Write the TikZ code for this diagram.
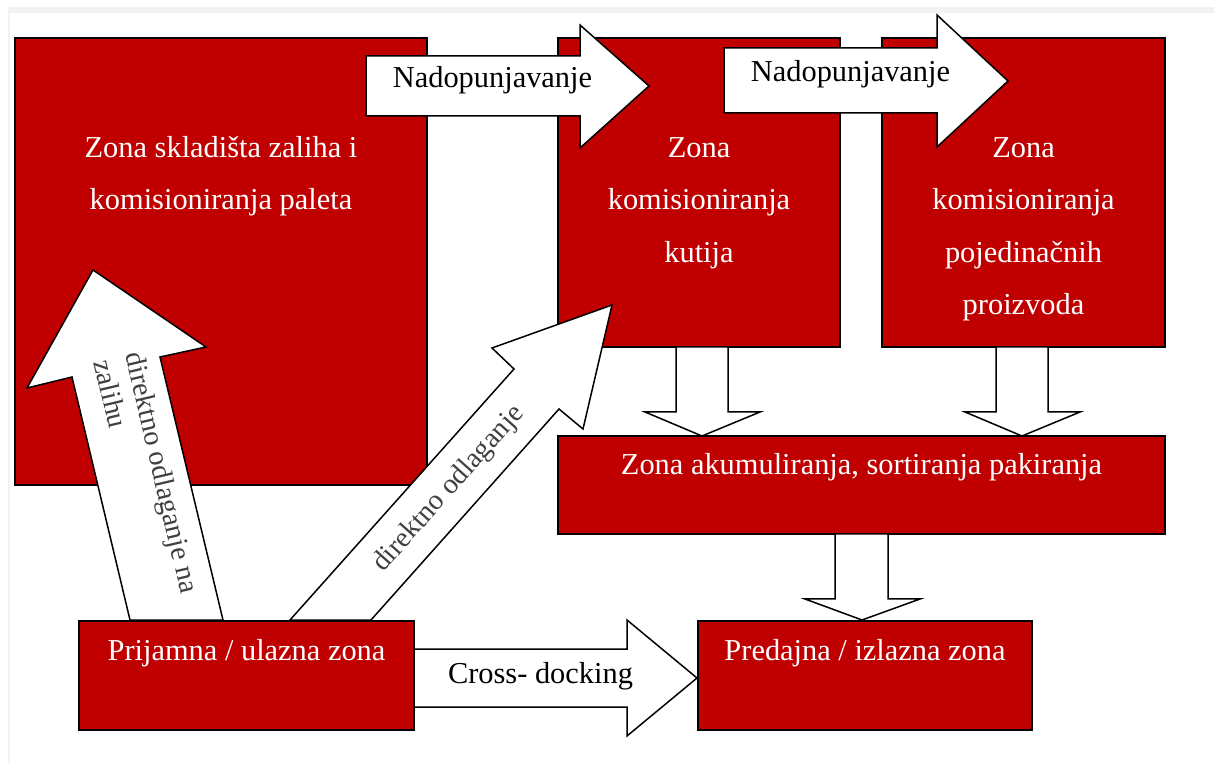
\documentclass[tikz,border=0pt]{standalone}
\usepackage{fontspec}
\setmainfont{Liberation Serif}
\definecolor{zonered}{HTML}{C00000}
\definecolor{labelgray}{HTML}{404040}
\definecolor{bandgray}{HTML}{F2F2F4}
\begin{document}
\begin{tikzpicture}[x=0.5pt,y=-0.5pt,
  zone/.style={draw=black, line width=1pt, fill=zonered, inner sep=0pt},
  ztext/.style={text=white, font=\fontsize{15.2}{18}\selectfont, anchor=base, inner sep=0pt},
  blockarrow/.style={draw=black, line width=0.75pt, fill=white, line join=miter},
  atext/.style={text=black, font=\fontsize{15.2}{18}\selectfont, anchor=base, inner sep=0pt},
  gtext/.style={text=labelgray, font=\fontsize{14.2}{16}\selectfont, inner sep=0pt}]
\useasboundingbox (0,0) rectangle (1214,763);
\fill[white] (0,0) rectangle (1214,763);
\fill[bandgray] (8,7) rectangle (1214,13);
\fill[bandgray] (8,7) rectangle (10,763);

% zones
\node[zone, minimum width=206pt, minimum height=223.5pt] (A) at (221,261.5) {};
\node[zone, minimum width=141pt, minimum height=154.5pt] (B) at (699,192.5) {};
\node[zone, minimum width=141.5pt, minimum height=154.5pt] (C) at (1023.5,192.5) {};
\node[zone, minimum width=303.5pt, minimum height=49pt] (D) at (861.5,485) {};
\node[zone, minimum width=167.5pt, minimum height=54.5pt] (E) at (246.5,675.5) {};
\node[zone, minimum width=167pt, minimum height=54.5pt] (F) at (865,675.5) {};

% zone texts
\node[ztext] (tA1) at (221,158) {Zona skladišta zaliha i};
\node[ztext] (tA2) at (221,210) {komisioniranja paleta};
\node[ztext] (tB1) at (699,158) {Zona};
\node[ztext] (tB2) at (699,210) {komisioniranja};
\node[ztext] (tB3) at (699,263) {kutija};
\node[ztext] (tC1) at (1023.5,158) {Zona};
\node[ztext] (tC2) at (1023.5,210) {komisioniranja};
\node[ztext] (tC3) at (1023.5,263) {pojedinačnih};
\node[ztext] (tC4) at (1023.5,315) {proizvoda};
\node[ztext] (tD) at (861.5,475) {Zona akumuliranja, sortiranja pakiranja};
\node[ztext] (tE) at (246.5,660) {Prijamna / ulazna zona};
\node[ztext] (tF) at (865,660) {Predajna / izlazna zona};

% block arrows
\draw[blockarrow] (366,56) -- (580,56) -- (580,25) -- (649,86) -- (580,148) -- (580,116) -- (366,116) -- cycle;
\draw[blockarrow] (724,48) -- (937,48) -- (937,15) -- (1008,81) -- (937,147) -- (937,113) -- (724,113) -- cycle;
\draw[blockarrow] (414,649) -- (627,649) -- (627,620) -- (697,678) -- (627,736) -- (627,707) -- (414,707) -- cycle;

\draw[blockarrow] (676,347) -- (728,347) -- (728,412) -- (760,412) -- (702,436) -- (645,412) -- (676,412) -- cycle;
\draw[blockarrow] (996,347) -- (1048,347) -- (1048,412) -- (1080,412) -- (1022,436) -- (965,412) -- (996,412) -- cycle;
\draw[blockarrow] (835,534) -- (888,534) -- (888,599) -- (920,599) -- (862,620) -- (805,599) -- (835,599) -- cycle;

\draw[blockarrow] (130,620) -- (72,377) -- (27,388) -- (93,270) -- (206,347) -- (160,357) -- (223,620) -- cycle;
\draw[blockarrow] (290,620) -- (514,369) -- (492,348) -- (612,305) -- (583,429) -- (559,409) -- (371,620) -- cycle;

% arrow labels
\node[atext] (n1) at (492.5,88) {Nadopunjavanje};
\node[atext] (n2) at (850.5,82) {Nadopunjavanje};
\node[atext] (cd) at (540.5,683) {Cross- docking};
\node[gtext, align=left, rotate=-76.8] (tUp) at (147,476) {direktno odlaganje na\\zalihu};
\node[gtext, rotate=48.2] (tDiag) at (449,489) {direktno odlaganje};
\end{tikzpicture}
\end{document}
